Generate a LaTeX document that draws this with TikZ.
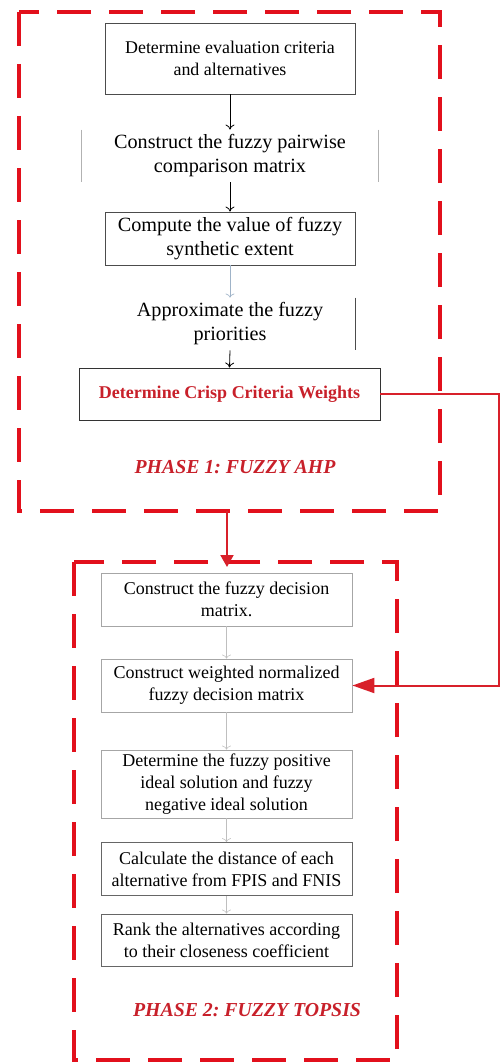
\documentclass[tikz,border=0pt]{standalone}
\usepackage{fontspec}
\setmainfont{Liberation Serif}
\usetikzlibrary{arrows.meta}
\definecolor{phred}{HTML}{E2101C}
\definecolor{txtred}{HTML}{C8202A}
\definecolor{linkred}{HTML}{D8202A}
\definecolor{paleblue}{HTML}{9FB3C8}
\begin{document}
\frenchspacing
\begin{tikzpicture}[x=1pt,y=-1pt,
  phasebox/.style={draw=phred, line width=4pt, dash pattern=on 34pt off 18pt},
  ahpbox/.style={draw=#1, line width=0.9pt, align=center, inner sep=0pt, font=\fontsize{20.2}{24}\selectfont},
  topbox/.style={draw=gray!60!black, line width=0.9pt, align=center, inner sep=0pt, font=\fontsize{17.9}{22}\selectfont},
  tbox/.style={draw=gray!70, line width=0.8pt, align=center, inner sep=0pt, minimum width=251pt, font=\fontsize{18}{22}\selectfont},
  flow/.style={-{To[length=5pt,width=9pt]}, line width=0.8pt, black},
  faint/.style={-{To[length=4pt,width=9pt]}, line width=0.5pt, gray!50},
  phaselabel/.style={text=txtred, font=\fontsize{19.8}{22}\selectfont\bfseries\itshape}
]
\useasboundingbox (0,0) rectangle (501,1062);

% Phase 1 frame
\draw[phasebox] (19,12) rectangle (440,511);
% Phase 2 frame
\draw[phasebox] (74,562) rectangle (397,1060);

% Phase 1 steps
\node[topbox, minimum width=250pt, minimum height=71pt] (s1) at (230,58.5)
  {Determine evaluation criteria\\and alternatives};
\node[ahpbox=none, minimum width=296pt, minimum height=52pt] (s2) at (230,156)
  {Construct the fuzzy pairwise\\comparison matrix};
\draw[gray!60, line width=0.8pt] (s2.north west) -- (s2.south west) (s2.north east) -- (s2.south east);
\node[ahpbox=gray!60!black, minimum width=250pt, minimum height=53pt] (s3) at (230,238.5)
  {Compute the value of fuzzy\\synthetic extent};
\node[ahpbox=none, minimum width=250pt, minimum height=52pt] (s4) at (230,324)
  {Approximate the fuzzy\\priorities};
\draw[gray!60!black, line width=0.9pt] (s4.north east) -- (s4.south east);
\node[draw=black!80, line width=0.9pt, minimum width=301pt, minimum height=52pt, inner sep=0pt,
  text=txtred, font=\fontsize{18}{20}\selectfont\bfseries] (s5) at (229.5,394)
  {Determine Crisp Criteria Weights};
\node[phaselabel] (l1) at (235,467) {PHASE 1: FUZZY AHP};

\draw[flow] (s1.south) -- (s2.north);
\draw[flow] (s2.south) -- (s3.north);
\draw[-{To[length=4pt,width=9pt]}, line width=0.6pt, paleblue] (s3.south) -- (s4.north);
\draw[flow] (s4.south) -- (s5.north);

% Phase 2 steps
\node[tbox, minimum height=53pt] (t1) at (226.5,599.5)
  {Construct the fuzzy decision\\matrix.};
\node[tbox, minimum height=53pt] (t2) at (226.5,685.5)
  {Construct weighted normalized\\fuzzy decision matrix};
\node[tbox, minimum height=68pt] (t3) at (226.5,784)
  {Determine the fuzzy positive\\ideal solution and fuzzy\\negative ideal solution};
\node[tbox, draw=gray!80!black, minimum height=53pt] (t4) at (226.5,869)
  {Calculate the distance of each\\alternative from FPIS and FNIS};
\node[tbox, draw=gray!80!black, minimum height=52pt] (t5) at (226.5,940)
  {Rank the alternatives according\\to their closeness coefficient};
\node[phaselabel] (l2) at (247,1010) {PHASE 2: FUZZY TOPSIS};

\draw[faint] (t1.south) -- (t2.north);
\draw[faint] (t2.south) -- (t3.north);
\draw[faint] (t3.south) -- (t4.north);
\draw[faint] (t4.south) -- (t5.north);

% Links
\coordinate (p1b) at (227,511);
\coordinate (p2t) at (227,567);
\draw[linkred, line width=2pt, -{Triangle[length=12pt,width=13pt]}] (p1b) -- (p2t);
\coordinate (turn) at (499,394);
\draw[linkred, line width=2pt, -{Triangle[length=22pt,width=15pt]}] (s5.east) -- (turn) |- (t2.east);
\end{tikzpicture}
\end{document}
